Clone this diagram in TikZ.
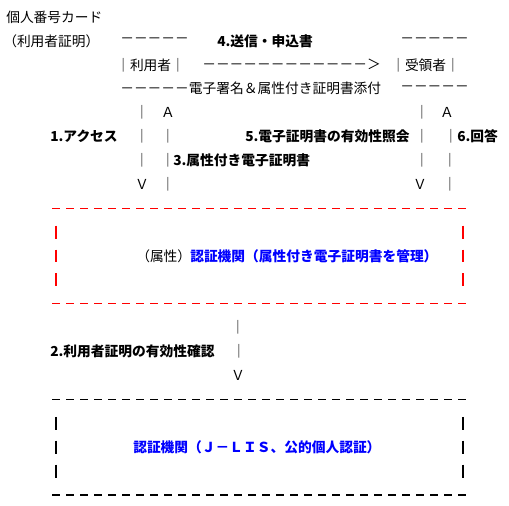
\documentclass[tikz,border=0pt]{standalone}
\usepackage{fontspec}
\usepackage{xcolor}
\usepackage{tikz}
\newfontfamily\jp{Noto Sans CJK JP}
\definecolor{caBlue}{HTML}{0000FF}
\definecolor{caRed}{HTML}{FF0000}
\tikzset{
  txt/.style={anchor=west, inner sep=0pt, font=\jp\fontsize{10.3pt}{12pt}\selectfont},
  bld/.style={txt, font=\jp\bfseries\fontsize{10.3pt}{12pt}\selectfont},
  blubld/.style={bld, text=caBlue},
  glyph/.style={inner sep=0pt, font=\jp\fontsize{10.3pt}{12pt}\selectfont},
  edge/.style={line width=0.8pt, dash pattern=on 6pt off 4.5pt},
  side/.style={line width=0.8pt},
}

\begin{document}
\begin{tikzpicture}[x=0.75pt, y=-17.925pt]
\useasboundingbox (0,-0.711) rectangle (509,20.46);

%% user / recipient exchange
\node[txt] (card) at (6,0) {個人番号カード};
\node[txt] (cert) at (3,1) {（利用者証明）};
\node[txt] (u_top) at (120,1) {－－－－－};
\node[bld] (send) at (217,1) {4.送信・申込書};
\node[txt] (r_top) at (400,1) {－－－－－};

\node[txt] (user) at (116,2) {｜利用者｜};
\node[txt] (arrow) at (202,2) {－－－－－－－－－－－－＞};
\node[txt] (recv) at (391,2) {｜受領者｜};

\node[txt] (u_bot) at (120,3) {－－－－－電子署名＆属性付き証明書添付};
\node[txt] (r_bot) at (400,3) {－－－－－};

%% vertical flows
\node[glyph] (l1a) at (142,4) {｜};
\node[glyph] (l2a) at (168,4) {Ａ};
\node[glyph] (r1a) at (422,4) {｜};
\node[glyph] (r2a) at (447,4) {Ａ};

\node[bld] (access) at (50,5) {1.アクセス};
\node[glyph] (l1b) at (142,5) {｜};
\node[glyph] (l2b) at (168,5) {｜};
\node[bld] (query) at (245,5) {5.電子証明書の有効性照会};
\node[glyph] (r1b) at (422,5) {｜};
\node[glyph] (r2b) at (451,5) {｜};
\node[bld] (answer) at (457,5) {6.回答};

\node[glyph] (l1c) at (142,6) {｜};
\node[glyph] (l2c) at (168,6) {｜};
\node[bld] (attr) at (173,6) {3.属性付き電子証明書};
\node[glyph] (r1c) at (422,6) {｜};
\node[glyph] (r2c) at (450,6) {｜};

\node[glyph] (l1d) at (142,7) {Ｖ};
\node[glyph] (l2d) at (168,7) {｜};
\node[glyph] (r1d) at (420,7) {Ｖ};
\node[glyph] (r2d) at (450,7) {｜};

%% attribute certification authority
\draw[edge, caRed] (52,8) -- (467,8);
\draw[edge, caRed] (52,12) -- (467,12);
\foreach \r in {9,10,11} {
  \draw[side, caRed] (56,\r-0.27) -- (56,\r+0.27);
  \draw[side, caRed] (463,\r-0.27) -- (463,\r+0.27);
}
\node[txt] (attr_tag) at (136,10) {（属性）};
\node[blubld] (attr_ca) at (190,10) {認証機関（属性付き電子証明書を管理）};

%% validity check
\node[glyph] (m1) at (238,13) {｜};
\node[bld] (check) at (50,14) {2.利用者証明の有効性確認};
\node[glyph] (m2) at (239,14) {｜};
\node[glyph] (m3) at (238,15) {Ｖ};

%% J-LIS
\draw[edge, black] (52,16) -- (467,16);
\draw[edge, black] (52,20) -- (467,20);
\foreach \r in {17,18,19} {
  \draw[side, black] (56,\r-0.27) -- (56,\r+0.27);
  \draw[side, black] (463,\r-0.27) -- (463,\r+0.27);
}
\node[blubld] (jlis) at (133,18) {認証機関（Ｊ－ＬＩＳ、公的個人認証）};

\end{tikzpicture}
\end{document}
